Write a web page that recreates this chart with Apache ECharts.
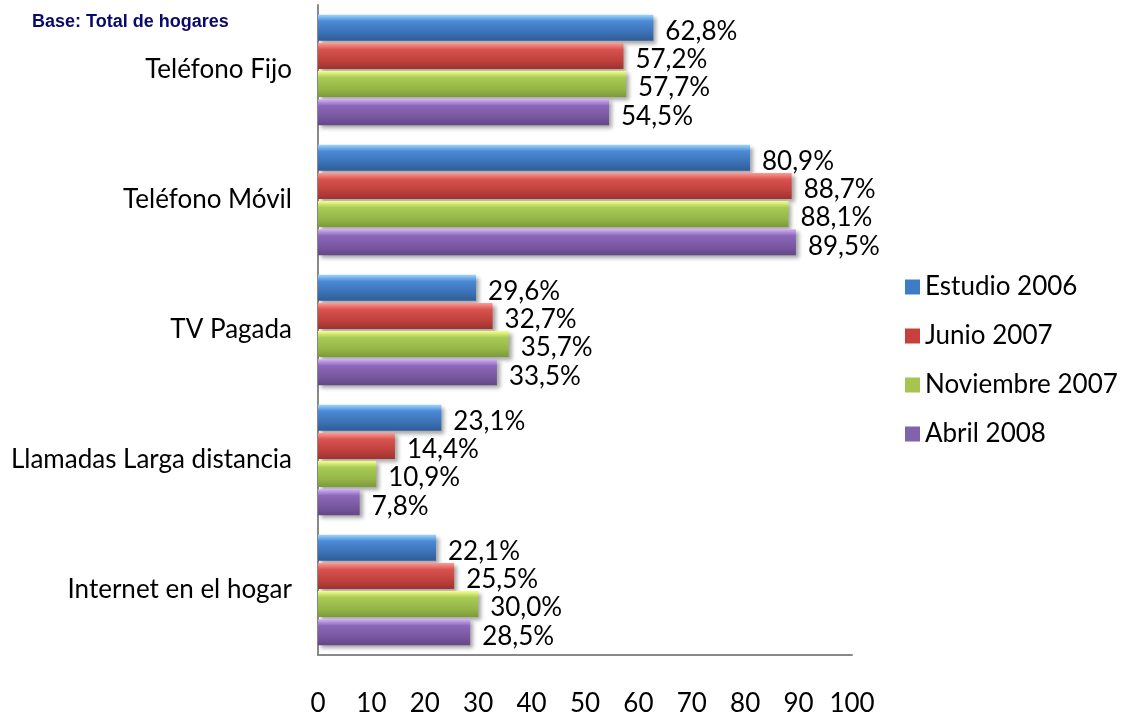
<!DOCTYPE html>
<html>
<head>
<meta charset="utf-8">
<script src="https://cdn.jsdelivr.net/npm/echarts@6/dist/echarts.min.js"></script>
<style>
html,body{margin:0;padding:0;background:#fff;}
#chart{width:1131px;height:721px;}
</style>
</head>
<body>
<div id="chart"></div>
<script>
const categories = ['Teléfono Fijo', 'Teléfono Móvil', 'TV Pagada', 'Llamadas Larga distancia', 'Internet en el hogar'];
const seriesNames = ['Estudio 2006', 'Junio 2007', 'Noviembre 2007', 'Abril 2008'];
const estudio2006 = [62.8, 80.9, 29.6, 23.1, 22.1];
const junio2007 = [57.2, 88.7, 32.7, 14.4, 25.5];
const noviembre2007 = [57.7, 88.1, 35.7, 10.9, 30.0];
const abril2008 = [54.5, 89.5, 33.5, 7.8, 28.5];
const xTicks = [0, 10, 20, 30, 40, 50, 60, 70, 80, 90, 100];

const seriesData = [estudio2006, junio2007, noviembre2007, abril2008];
const palettes = [
  ['#9fd4ff', '#4a8ad6', '#3b70b3', '#2f5c96'],
  ['#ff9a96', '#d9534f', '#bd3f3b', '#9c3330'],
  ['#f5ff8a', '#a8cc55', '#94b547', '#7b993a'],
  ['#d6b0ff', '#8c68b8', '#77569f', '#634785']
];
const legendColors = ['#3f7cc6', '#c8403c', '#a5c54f', '#8261ad'];
const FONT = 'Lato';

function grad(p) {
  return new echarts.graphic.LinearGradient(0, 0, 0, 1, [
    {offset: 0, color: p[0]},
    {offset: 0.25, color: p[1]},
    {offset: 0.7, color: p[2]},
    {offset: 1, color: p[3]}
  ]);
}

const chart = echarts.init(document.getElementById('chart'));
chart.setOption({
  animation: false,
  title: {
    text: 'Base: Total de hogares',
    left: 27, top: 8,
    textStyle: {fontFamily: 'Liberation Sans', fontSize: 18, fontWeight: 'bold', color: '#0a0a6e'}
  },
  legend: {
    orient: 'vertical',
    left: 900, top: 269,
    itemWidth: 15, itemHeight: 15, itemGap: 23,
    icon: 'rect',
    textStyle: {fontFamily: FONT, fontSize: 26, color: '#000'},
    data: seriesNames.map((n, i) => ({name: n, itemStyle: {color: legendColors[i]}}))
  },
  grid: {left: 318, right: 279, top: 5, bottom: 66, containLabel: false},
  xAxis: {
    type: 'value', min: 0, max: 100, interval: 10,
    axisLine: {show: true, lineStyle: {color: '#888', width: 2}},
    axisTick: {show: false},
    splitLine: {show: false},
    axisLabel: {margin: 36, fontFamily: FONT, fontSize: 26, color: '#000',
      formatter: v => xTicks.includes(v) ? String(v) : ''}
  },
  yAxis: {
    type: 'category', inverse: true, data: categories,
    axisLine: {show: true, lineStyle: {color: '#888', width: 2}},
    axisTick: {show: false},
    axisLabel: {margin: 26, fontFamily: FONT, fontSize: 26, color: '#000'}
  },
  series: seriesData.map((d, i) => ({
    name: seriesNames[i],
    type: 'bar',
    data: d,
    barCategoryGap: '15%',
    barGap: '8%',
    itemStyle: {
      color: grad(palettes[i]),
      shadowColor: 'rgba(0,0,0,0.35)', shadowBlur: 4, shadowOffsetX: 3, shadowOffsetY: 3
    },
    label: {
      show: true, position: 'right', distance: 12, offset: [0, 4],
      fontFamily: FONT, fontSize: 26, color: '#000',
      formatter: p => p.value.toFixed(1).replace('.', ',') + '%'
    }
  }))
});
</script>
</body>
</html>
